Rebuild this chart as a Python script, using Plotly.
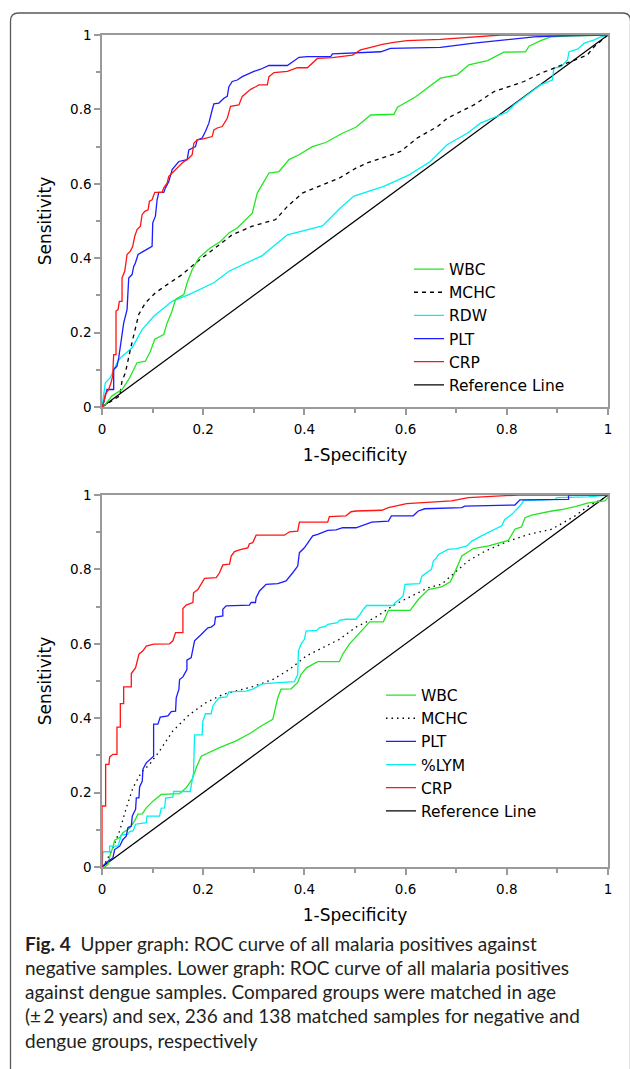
import plotly.graph_objects as go

W, H = 630, 1069

# ---------------- data: upper graph (malaria positives vs negative) ----------------
up_wbc_x = [0, 0.0066, 0.0198, 0.0396, 0.0528, 0.0693, 0.0858, 0.0957, 0.1043, 0.1221, 0.1287, 0.1373, 0.1452,
            0.1617, 0.1683, 0.1782, 0.1914, 0.2145, 0.2343, 0.2508, 0.2673, 0.297, 0.3069, 0.3168, 0.33, 0.3498,
            0.3696, 0.3894, 0.4158, 0.4422, 0.4752, 0.5017, 0.531, 0.577, 0.584, 0.620, 0.669, 0.702, 0.725,
            0.762, 0.794, 0.837, 0.844, 0.867, 0.887, 0.933, 1.0]
up_wbc_y = [0, 0.007, 0.030, 0.047, 0.074, 0.119, 0.123, 0.150, 0.182, 0.195, 0.226, 0.253, 0.289,
            0.302, 0.334, 0.369, 0.401, 0.428, 0.445, 0.468, 0.481, 0.521, 0.575, 0.597, 0.629, 0.633,
            0.665, 0.678, 0.700, 0.711, 0.736, 0.752, 0.785, 0.787, 0.806, 0.834, 0.884, 0.893, 0.920,
            0.931, 0.954, 0.955, 0.970, 0.985, 0.995, 0.998, 1.0]

up_mchc_x = [0, 0.035, 0.0396, 0.0462, 0.0561, 0.066, 0.0726, 0.0858, 0.1056, 0.1287, 0.1584, 0.1848, 0.2145,
             0.2574, 0.297, 0.3432, 0.3663, 0.396, 0.4356, 0.4686, 0.5017, 0.524, 0.577, 0.590, 0.623, 0.663,
             0.682, 0.735, 0.775, 0.834, 0.867, 0.893, 0.933, 0.959, 0.973, 1.0]
up_mchc_y = [0, 0.030, 0.070, 0.092, 0.155, 0.208, 0.249, 0.280, 0.307, 0.329, 0.356, 0.387, 0.419,
             0.463, 0.486, 0.504, 0.539, 0.575, 0.597, 0.615, 0.642, 0.656, 0.680, 0.687, 0.723, 0.754,
             0.776, 0.812, 0.848, 0.875, 0.897, 0.911, 0.933, 0.946, 0.969, 1.0]

up_rdw_x = [0, 0.0033, 0.0066, 0.0165, 0.0297, 0.0363, 0.0594, 0.0792, 0.1023, 0.1386, 0.1716, 0.2211, 0.2508,
            0.3168, 0.3663, 0.4356, 0.4710, 0.498, 0.557, 0.607, 0.649, 0.682, 0.722, 0.748, 0.781, 0.801, 0.814,
            0.841, 0.867, 0.890, 0.893, 0.907, 0.920, 0.923, 0.940, 0.953, 0.973, 0.986, 1.0]
up_rdw_y = [0, 0.030, 0.065, 0.079, 0.119, 0.132, 0.159, 0.208, 0.244, 0.284, 0.302, 0.334, 0.365,
            0.407, 0.463, 0.487, 0.535, 0.567, 0.593, 0.624, 0.660, 0.705, 0.736, 0.763, 0.781, 0.793, 0.812,
            0.839, 0.866, 0.879, 0.911, 0.915, 0.933, 0.955, 0.962, 0.978, 0.987, 0.995, 1.0]

up_plt_x = [0, 0.0033, 0.0099, 0.0231, 0.0231, 0.0297, 0.033, 0.0363, 0.0396, 0.0429, 0.0495, 0.0528, 0.0594,
            0.0627, 0.066, 0.0713, 0.0825, 0.099, 0.1003, 0.1056, 0.1089, 0.1122, 0.1221, 0.1254, 0.132, 0.1386,
            0.1518, 0.1683, 0.1716, 0.1782, 0.1848, 0.1881, 0.198, 0.2046, 0.2112, 0.2178, 0.2211, 0.231, 0.2409,
            0.2475, 0.2508, 0.2574, 0.2673, 0.2772, 0.2904, 0.3003, 0.3135, 0.33, 0.3663, 0.3828, 0.3894, 0.4059,
            0.4521, 0.4554, 0.495, 0.551, 0.570, 0.669, 0.735, 0.808, 0.854, 0.907, 1.0]
up_plt_y = [0, 0.012, 0.047, 0.047, 0.101, 0.110, 0.132, 0.164, 0.199, 0.226, 0.262, 0.347, 0.356,
            0.378, 0.387, 0.410, 0.419, 0.432, 0.495, 0.513, 0.557, 0.577, 0.577, 0.589, 0.606, 0.638,
            0.660, 0.665, 0.691, 0.696, 0.700, 0.718, 0.723, 0.741, 0.763, 0.799, 0.815, 0.817, 0.830,
            0.835, 0.861, 0.875, 0.879, 0.888, 0.897, 0.902, 0.908, 0.918, 0.918, 0.933, 0.940, 0.942,
            0.942, 0.949, 0.951, 0.955, 0.964, 0.967, 0.978, 0.988, 0.995, 0.998, 1.0]

up_crp_x = [0, 0.0033, 0.0066, 0.0132, 0.0178, 0.0211, 0.0231, 0.0277, 0.0277, 0.0317, 0.0343, 0.0396, 0.0396,
            0.0449, 0.0495, 0.0561, 0.0607, 0.0647, 0.0693, 0.0759, 0.0792, 0.0845, 0.0911, 0.0937, 0.099, 0.1043,
            0.1188, 0.1221, 0.1287, 0.132, 0.1386, 0.1485, 0.1584, 0.1716, 0.1782, 0.1815, 0.1881, 0.198, 0.2178,
            0.2211, 0.2277, 0.2376, 0.2475, 0.2541, 0.2706, 0.2772, 0.2871, 0.2937, 0.3036, 0.3102, 0.3267, 0.33,
            0.3399, 0.3663, 0.3861, 0.4059, 0.4257, 0.4554, 0.495, 0.511, 0.531, 0.554, 0.577, 0.603, 0.669,
            0.722, 0.788, 1.0]
up_crp_y = [0, 0.012, 0.034, 0.047, 0.065, 0.083, 0.141, 0.141, 0.258, 0.262, 0.284, 0.284, 0.347,
            0.365, 0.410, 0.419, 0.432, 0.459, 0.477, 0.486, 0.517, 0.526, 0.530, 0.553, 0.557, 0.577,
            0.577, 0.589, 0.602, 0.620, 0.629, 0.642, 0.656, 0.669, 0.678, 0.709, 0.718, 0.720, 0.727,
            0.745, 0.750, 0.754, 0.776, 0.808, 0.812, 0.835, 0.848, 0.854, 0.861, 0.866, 0.866, 0.888,
            0.899, 0.902, 0.912, 0.912, 0.937, 0.939, 0.946, 0.960, 0.967, 0.975, 0.980, 0.985, 0.988,
            0.994, 1.0, 1.0]

# ---------------- data: lower graph (malaria positives vs dengue) ----------------
lo_wbc_x = [0, 0.0053, 0.0118, 0.0164, 0.0217, 0.025, 0.0349, 0.0414, 0.0546, 0.0645, 0.0711, 0.0796, 0.0875,
            0.1007, 0.1171, 0.1533, 0.1664, 0.1783, 0.1862, 0.1961, 0.2322, 0.2651, 0.2947, 0.3145, 0.3375,
            0.3474, 0.3539, 0.3737, 0.3868, 0.3934, 0.4046, 0.4263, 0.4691, 0.4757, 0.4888, 0.503, 0.529, 0.556,
            0.566, 0.609, 0.625, 0.645, 0.671, 0.688, 0.694, 0.711, 0.734, 0.764, 0.803, 0.816, 0.829, 0.836,
            0.849, 0.889, 0.909, 0.935, 0.961, 0.994, 1.0, 1.0]
lo_wbc_y = [0, 0, 0.007, 0.034, 0.054, 0.072, 0.079, 0.092, 0.104, 0.124, 0.142, 0.143, 0.159,
            0.177, 0.195, 0.197, 0.213, 0.236, 0.267, 0.298, 0.321, 0.339, 0.361, 0.379, 0.397,
            0.455, 0.478, 0.479, 0.496, 0.518, 0.536, 0.552, 0.552, 0.572, 0.599, 0.621, 0.659, 0.659,
            0.690, 0.690, 0.719, 0.746, 0.753, 0.766, 0.782, 0.836, 0.856, 0.863, 0.878, 0.908, 0.914, 0.939,
            0.946, 0.957, 0.961, 0.969, 0.979, 0.984, 0.993, 1.0]

lo_mchc_x = [0, 0.0086, 0.0217, 0.0349, 0.048, 0.0612, 0.0776, 0.0941, 0.1138, 0.1401, 0.173, 0.2059, 0.2388,
             0.2651, 0.298, 0.3375, 0.3704, 0.4033, 0.4362, 0.4691, 0.502, 0.539, 0.579, 0.605, 0.645, 0.671,
             0.694, 0.724, 0.757, 0.803, 0.843, 0.889, 0.935, 0.961, 0.994, 1.0]
lo_mchc_y = [0, 0.016, 0.052, 0.097, 0.159, 0.213, 0.254, 0.276, 0.312, 0.366, 0.410, 0.442, 0.464,
             0.473, 0.485, 0.504, 0.531, 0.567, 0.590, 0.612, 0.645, 0.670, 0.706, 0.724, 0.751, 0.760,
             0.787, 0.823, 0.849, 0.876, 0.894, 0.908, 0.944, 0.970, 0.993, 1.0]

lo_plt_x = [0, 0.0053, 0.0086, 0.0217, 0.025, 0.0349, 0.0414, 0.048, 0.0513, 0.0579, 0.0599, 0.0664, 0.0678,
            0.073, 0.0743, 0.0796, 0.0809, 0.0875, 0.0974, 0.102, 0.102, 0.1105, 0.1151, 0.1303, 0.1368, 0.1454,
            0.1467, 0.152, 0.1533, 0.1599, 0.1678, 0.1678, 0.1763, 0.1796, 0.1829, 0.1961, 0.2092, 0.2158,
            0.2224, 0.2243, 0.2388, 0.2388, 0.2454, 0.2914, 0.2947, 0.3033, 0.3046, 0.3112, 0.3243, 0.3474,
            0.3638, 0.377, 0.3868, 0.3901, 0.4, 0.4164, 0.4263, 0.4461, 0.4625, 0.4757, 0.502, 0.533, 0.566,
            0.572, 0.615, 0.625, 0.638, 0.711, 0.717, 0.816, 0.826, 0.922, 0.922, 1.0]
lo_plt_y = [0, 0.007, 0.012, 0.025, 0.047, 0.056, 0.074, 0.083, 0.106, 0.110, 0.137, 0.155, 0.186,
            0.186, 0.215, 0.231, 0.263, 0.280, 0.294, 0.298, 0.384, 0.384, 0.403, 0.406, 0.418, 0.419,
            0.455, 0.478, 0.504, 0.511, 0.531, 0.556, 0.563, 0.585, 0.608, 0.625, 0.643, 0.645,
            0.652, 0.672, 0.675, 0.693, 0.702, 0.704, 0.711, 0.711, 0.724, 0.742, 0.760, 0.762,
            0.769, 0.791, 0.809, 0.845, 0.858, 0.890, 0.894, 0.905, 0.906, 0.912, 0.912, 0.927, 0.930,
            0.944, 0.944, 0.957, 0.963, 0.966, 0.970, 0.973, 0.987, 0.988, 1.0, 1.0]

lo_lym_x = [0, 0.002, 0.0151, 0.0151, 0.0316, 0.0362, 0.0382, 0.0513, 0.0546, 0.0612, 0.0664, 0.0875, 0.0888,
            0.1138, 0.1171, 0.1237, 0.1257, 0.1401, 0.1414, 0.1743, 0.1809, 0.1829, 0.198, 0.1993, 0.2046,
            0.2158, 0.2191, 0.2257, 0.2322, 0.2467, 0.2507, 0.2849, 0.298, 0.3145, 0.3211, 0.3803, 0.3868,
            0.3882, 0.3934, 0.4, 0.4033, 0.4243, 0.4296, 0.4428, 0.4461, 0.4658, 0.4691, 0.4822, 0.502, 0.510,
            0.516, 0.523, 0.576, 0.579, 0.595, 0.599, 0.628, 0.632, 0.642, 0.651, 0.655, 0.661, 0.665, 0.684,
            0.701, 0.721, 0.731, 0.750, 0.790, 0.796, 0.810, 0.820, 0.829, 0.833, 0.895, 0.899, 0.961, 1.0]
lo_lym_y = [0, 0.041, 0.041, 0.056, 0.056, 0.079, 0.086, 0.088, 0.095, 0.097, 0.115, 0.119, 0.137,
            0.137, 0.158, 0.159, 0.185, 0.188, 0.203, 0.203, 0.254, 0.355, 0.355, 0.392, 0.412,
            0.412, 0.433, 0.446, 0.455, 0.457, 0.471, 0.473, 0.478, 0.491, 0.493, 0.498, 0.518,
            0.581, 0.599, 0.612, 0.634, 0.636, 0.643, 0.648, 0.652, 0.657, 0.663, 0.666, 0.666, 0.679,
            0.692, 0.703, 0.703, 0.710, 0.728, 0.760, 0.762, 0.782, 0.791, 0.800, 0.823, 0.831, 0.840, 0.854,
            0.856, 0.863, 0.876, 0.890, 0.917, 0.934, 0.948, 0.961, 0.975, 0.985, 0.988, 0.993, 0.995, 1.0]

lo_crp_x = [0, 0, 0.0072, 0.0072, 0.0138, 0.0151, 0.0217, 0.0296, 0.0296, 0.0362, 0.0362, 0.0428, 0.0428,
            0.0579, 0.0579, 0.0664, 0.073, 0.0809, 0.0875, 0.102, 0.1336, 0.1401, 0.1454, 0.1599, 0.1599,
            0.1664, 0.1796, 0.1809, 0.1895, 0.1961, 0.2026, 0.2257, 0.2322, 0.2388, 0.252, 0.2553, 0.2618,
            0.275, 0.2882, 0.2914, 0.298, 0.3046, 0.3605, 0.3704, 0.3868, 0.3901, 0.4461, 0.4493, 0.4822,
            0.4921, 0.502, 0.553, 0.566, 0.602, 0.691, 0.724, 0.823, 1.0]
lo_crp_y = [0, 0.164, 0.164, 0.276, 0.276, 0.296, 0.303, 0.303, 0.376, 0.376, 0.439, 0.439, 0.484,
            0.484, 0.520, 0.536, 0.572, 0.581, 0.594, 0.599, 0.600, 0.608, 0.630, 0.630, 0.695,
            0.704, 0.711, 0.737, 0.746, 0.760, 0.776, 0.778, 0.791, 0.812, 0.814, 0.836, 0.848,
            0.854, 0.858, 0.869, 0.872, 0.892, 0.892, 0.901, 0.903, 0.927, 0.927, 0.942, 0.944,
            0.955, 0.957, 0.959, 0.966, 0.977, 0.984, 0.993, 1.0, 1.0]

ref_x = [0, 1]
ref_y = [0, 1]

tick_vals = [0, 0.2, 0.4, 0.6, 0.8, 1]
tick_text = ["0", "0.2", "0.4", "0.6", "0.8", "1"]
minor_vals = [0.1, 0.3, 0.5, 0.7, 0.9]

caption_lines = [
    "<b>Fig. 4</b>  Upper graph: ROC curve of all malaria positives against",
    "negative samples. Lower graph: ROC curve of all malaria positives",
    "against dengue samples. Compared groups were matched in age",
    "(±\u20092 years) and sex, 236 and 138 matched samples for negative and",
    "dengue groups, respectively",
]

# ---------------- styling ----------------
GREEN = "#22e622"
CYAN = "#00f0f0"
BLUE = "#1c1cff"
RED = "#ff1414"
BLACK = "#000000"
AXC = "#9a9a9a"
FONT = "DejaVu Sans"
LW = 1.3

def px_x(p):
    return p / W

def px_y(p):
    return 1 - p / H

fig = go.Figure()

upper = [
    # name, x, y, color, dash, legend rank
    ("Reference Line", ref_x, ref_y, BLACK, "solid", 6),
    ("RDW", up_rdw_x, up_rdw_y, CYAN, "solid", 3),
    ("MCHC", up_mchc_x, up_mchc_y, BLACK, "4px,4px", 2),
    ("WBC", up_wbc_x, up_wbc_y, GREEN, "solid", 1),
    ("PLT", up_plt_x, up_plt_y, BLUE, "solid", 4),
    ("CRP", up_crp_x, up_crp_y, RED, "solid", 5),
]
for name, xs, ys, col, dash, rank in upper:
    fig.add_trace(go.Scatter(x=xs, y=ys, mode="lines", name=name, legend="legend",
                             legendrank=rank, xaxis="x", yaxis="y",
                             line=dict(color=col, width=LW, dash=dash)))

lower = [
    ("Reference Line", ref_x, ref_y, BLACK, "solid", 6),
    ("MCHC", lo_mchc_x, lo_mchc_y, BLACK, "1.5px,4px", 2),
    ("WBC", lo_wbc_x, lo_wbc_y, GREEN, "solid", 1),
    ("%LYM", lo_lym_x, lo_lym_y, CYAN, "solid", 4),
    ("PLT", lo_plt_x, lo_plt_y, BLUE, "solid", 3),
    ("CRP", lo_crp_x, lo_crp_y, RED, "solid", 5),
]
for name, xs, ys, col, dash, rank in lower:
    fig.add_trace(go.Scatter(x=xs, y=ys, mode="lines", name=name, legend="legend2",
                             legendrank=rank, xaxis="x2", yaxis="y2",
                             line=dict(color=col, width=LW, dash=dash)))

def axis(domain, anchor, title, standoff, label_standoff):
    return dict(
        domain=domain, anchor=anchor, range=[0, 1], automargin=False,
        showgrid=False, zeroline=False, showline=True, mirror=True,
        linecolor=AXC, linewidth=1.5, layer="below traces",
        ticks="outside", ticklen=6, tickwidth=1.5, tickcolor=AXC,
        tickvals=tick_vals, ticktext=tick_text, ticklabelstandoff=label_standoff,
        tickfont=dict(family=FONT, size=13.5, color="black"),
        minor=dict(tickvals=minor_vals, ticks="outside", ticklen=4, tickwidth=1.5, tickcolor=AXC),
        title=dict(text=title, font=dict(family=FONT, size=17, color="black"), standoff=standoff),
        fixedrange=True,
    )

xdom = [px_x(102), px_x(608)]
up_ydom = [px_y(407), px_y(35)]
lo_ydom = [px_y(867), px_y(495)]

legend_common = dict(bgcolor="rgba(0,0,0,0)", borderwidth=0,
                     font=dict(family=FONT, size=15.5, color="black"),
                     xanchor="left", yanchor="top", traceorder="normal", itemclick=False)

# rounded outer frame (figure border)
x0, y0, r = 10.5, 13, 8
x1 = 630.5
border_path = (
    f"M {px_x(x0)},{px_y(H + 5)} L {px_x(x0)},{px_y(y0 + r)} "
    f"Q {px_x(x0)},{px_y(y0)} {px_x(x0 + r)},{px_y(y0)} "
    f"L {px_x(x1 - r)},{px_y(y0)} Q {px_x(x1)},{px_y(y0)} {px_x(x1)},{px_y(y0 + r)} "
    f"L {px_x(x1)},{px_y(H + 5)}"
)

annotations = []
for i, line in enumerate(caption_lines):
    annotations.append(dict(
        text=line, xref="paper", yref="paper", x=px_x(23), y=px_y(943 + 24.3 * i),
        xanchor="left", yanchor="middle", showarrow=False, align="left",
        font=dict(family="Lato", size=19.0, color="#231f20"),
    ))

fig.update_layout(
    width=W, height=H, autosize=False,
    margin=dict(l=0, r=0, t=0, b=0, pad=0, autoexpand=False),
    paper_bgcolor="white", plot_bgcolor="white",
    showlegend=True,
    xaxis=axis(xdom, "y", "1-Specificity", 13, 3),
    yaxis=axis(up_ydom, "x", "Sensitivity", 14, 0),
    xaxis2=axis(xdom, "y2", "1-Specificity", 13, 3),
    yaxis2=axis(lo_ydom, "x2", "Sensitivity", 14, 0),
    legend=dict(x=px_x(409), y=px_y(252.5), **legend_common),
    legend2=dict(x=px_x(381), y=px_y(678.5), **legend_common),
    shapes=[dict(type="path", path=border_path, xref="paper", yref="paper",
                 line=dict(color="#5a5a5a", width=1.3), layer="above")],
    annotations=annotations,
)

fig.write_html("out.html", include_plotlyjs=True, config={"displayModeBar": False},
               post_script="document.body.style.margin='0';document.body.style.overflow='hidden';")
